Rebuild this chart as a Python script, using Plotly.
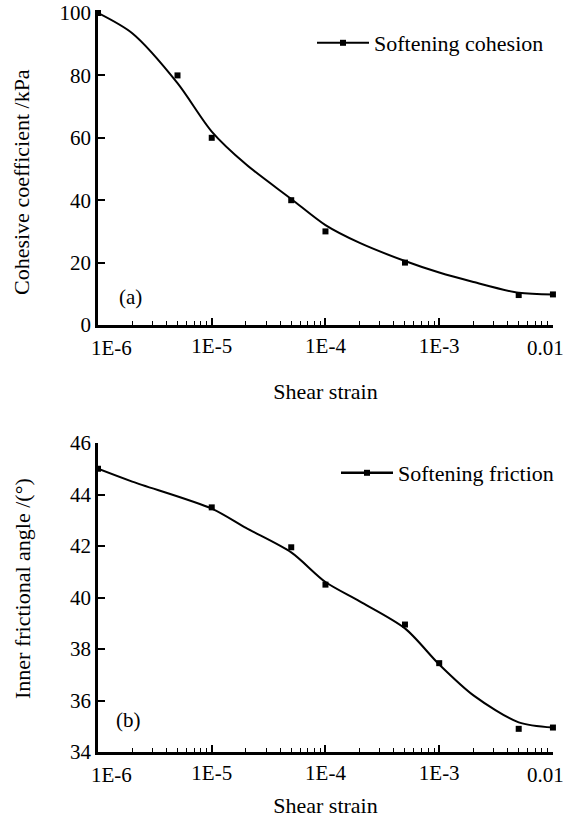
import plotly.graph_objects as go

# ---- data ----
strain_pts = [1e-6, 5e-6, 1e-5, 5e-5, 1e-4, 5e-4, 5e-3, 1e-2]
cohesion_pts = [100, 80, 60, 40, 30, 20, 9.6, 9.8]

strain_curve_a = [1e-6, 2e-6, 5e-6, 1e-5, 2e-5, 5e-5, 1e-4, 2e-4, 5e-4, 1e-3, 2e-3, 5e-3, 1e-2]
cohesion_curve = [100, 93.5, 77.5, 62, 51.5, 40.4, 32, 26.3, 20.5, 16.8, 13.8, 10.3, 9.8]

friction_x = [1e-6, 1e-5, 5e-5, 1e-4, 5e-4, 1e-3, 5e-3, 1e-2]
friction_pts = [45.0, 43.5, 41.95, 40.5, 38.95, 37.45, 34.9, 34.95]

strain_curve_b = [1e-6, 2e-6, 1e-5, 2e-5, 5e-5, 1e-4, 2e-4, 5e-4, 1e-3, 2e-3, 5e-3, 1e-2]
friction_curve = [45.0, 44.5, 43.45, 42.7, 41.75, 40.6, 39.85, 38.8, 37.4, 36.2, 35.15, 34.95]

x_tickvals = [1e-6, 1e-5, 1e-4, 1e-3, 1e-2]
x_ticktext = ["1E-6", "1E-5", "1E-4", "1E-3", "0.01"]
ya_ticks = [0, 20, 40, 60, 80, 100]
yb_ticks = [34, 36, 38, 40, 42, 44, 46]

W, H = 567, 821
FONT = "Liberation Serif, Times New Roman, serif"

def px(x):
    return x / W

def py(y):
    return 1 - y / H

fig = go.Figure()

# top panel
fig.add_trace(go.Scatter(x=strain_curve_a, y=cohesion_curve, mode="lines",
                         line=dict(color="black", width=2, shape="spline", smoothing=0.8),
                         xaxis="x", yaxis="y", showlegend=False, hoverinfo="skip", cliponaxis=False))
fig.add_trace(go.Scatter(x=strain_pts, y=cohesion_pts, mode="markers", marker=dict(symbol="square", size=6, color="black"),
                         xaxis="x", yaxis="y", showlegend=False, cliponaxis=False))
fig.add_trace(go.Scatter(x=[None], y=[None], mode="lines+markers", name="Softening cohesion",
                         line=dict(color="black", width=2), marker=dict(symbol="square", size=6, color="black"),
                         xaxis="x", yaxis="y", legend="legend"))

# bottom panel
fig.add_trace(go.Scatter(x=strain_curve_b, y=friction_curve, mode="lines",
                         line=dict(color="black", width=2, shape="spline", smoothing=0.8),
                         xaxis="x2", yaxis="y2", showlegend=False, hoverinfo="skip", cliponaxis=False))
fig.add_trace(go.Scatter(x=friction_x, y=friction_pts, mode="markers", marker=dict(symbol="square", size=6, color="black"),
                         xaxis="x2", yaxis="y2", showlegend=False, cliponaxis=False))
fig.add_trace(go.Scatter(x=[None], y=[None], mode="lines+markers", name="Softening friction",
                         line=dict(color="black", width=2.5), marker=dict(symbol="square", size=6, color="black"),
                         xaxis="x2", yaxis="y2", legend="legend2"))

xdom = [px(98), px(553)]
# middle tick labels drawn by the axis; the two end labels are placed as annotations (offset like the original)
axis_ticktext = [""] + x_ticktext[1:-1] + [""]

def xaxis(anchor, title_std):
    return dict(
        type="log", range=[-6, -1.9995], domain=xdom, anchor=anchor, automargin=False,
        tickvals=x_tickvals, ticktext=axis_ticktext, ticks="inside", ticklen=7, tickwidth=1.5, tickcolor="black",
        minor=dict(ticks="inside", ticklen=4, tickwidth=1, tickcolor="black", dtick="D1", showgrid=False),
        showline=True, linecolor="black", linewidth=2.5, showgrid=False, zeroline=False,
        tickfont=dict(family=FONT, size=21, color="black"),
        title=dict(text="Shear strain", font=dict(family=FONT, size=22, color="black"), standoff=title_std),
    )

def yaxis(anchor, dom, rng, tv):
    return dict(
        domain=dom, anchor=anchor, range=rng, tickvals=tv, ticks="inside", ticklen=7, tickwidth=1.5, tickcolor="black",
        showline=True, linecolor="black", linewidth=2.5, showgrid=False, zeroline=False, automargin=False,
        tickfont=dict(family=FONT, size=21, color="black"), ticklabelstandoff=0,
    )

def tick_ann(text, x, y, xanchor):
    return dict(text=text, x=px(x), y=py(y), xref="paper", yref="paper", showarrow=False,
                xanchor=xanchor, yanchor="middle", font=dict(family=FONT, size=21, color="black"))

annotations = [
    dict(text="Cohesive coefficient /kPa", x=px(22), y=py(182), xref="paper", yref="paper", textangle=-90,
         xanchor="center", yanchor="middle", showarrow=False, font=dict(family=FONT, size=22, color="black")),
    dict(text="Inner frictional angle /(°)", x=px(22), y=py(589), xref="paper", yref="paper", textangle=-90,
         xanchor="center", yanchor="middle", showarrow=False, font=dict(family=FONT, size=22, color="black")),
    dict(text="(a)", x=px(130), y=py(297), xref="paper", yref="paper", showarrow=False,
         xanchor="center", yanchor="middle", font=dict(family=FONT, size=21, color="black")),
    dict(text="(b)", x=px(128), y=py(720), xref="paper", yref="paper", showarrow=False,
         xanchor="center", yanchor="middle", font=dict(family=FONT, size=21, color="black")),
    tick_ann(x_ticktext[0], 111, 348, "center"),
    tick_ann(x_ticktext[-1], 566, 348, "right"),
    tick_ann(x_ticktext[0], 111, 775, "center"),
    tick_ann(x_ticktext[-1], 566, 775, "right"),
]

fig.update_layout(
    width=W, height=H, margin=dict(l=0, r=0, t=0, b=0, autoexpand=False),
    paper_bgcolor="white", plot_bgcolor="white",
    font=dict(family=FONT, size=21, color="black"),
    xaxis=xaxis("y", 27),
    yaxis=yaxis("x", [py(325), py(13)], [0, 100], ya_ticks),
    xaxis2=xaxis("y2", 14),
    yaxis2=yaxis("x2", [py(752), py(443)], [34, 46], yb_ticks),
    legend=dict(x=px(312), y=py(43), xanchor="left", yanchor="middle", bgcolor="rgba(0,0,0,0)", itemwidth=52,
                font=dict(family=FONT, size=22, color="black")),
    legend2=dict(x=px(336), y=py(473), xanchor="left", yanchor="middle", bgcolor="rgba(0,0,0,0)", itemwidth=52,
                 font=dict(family=FONT, size=22, color="black")),
    annotations=annotations,
)

fig.write_html("out.html", config={"displayModeBar": False},
               post_script="document.body.style.margin='0';")
